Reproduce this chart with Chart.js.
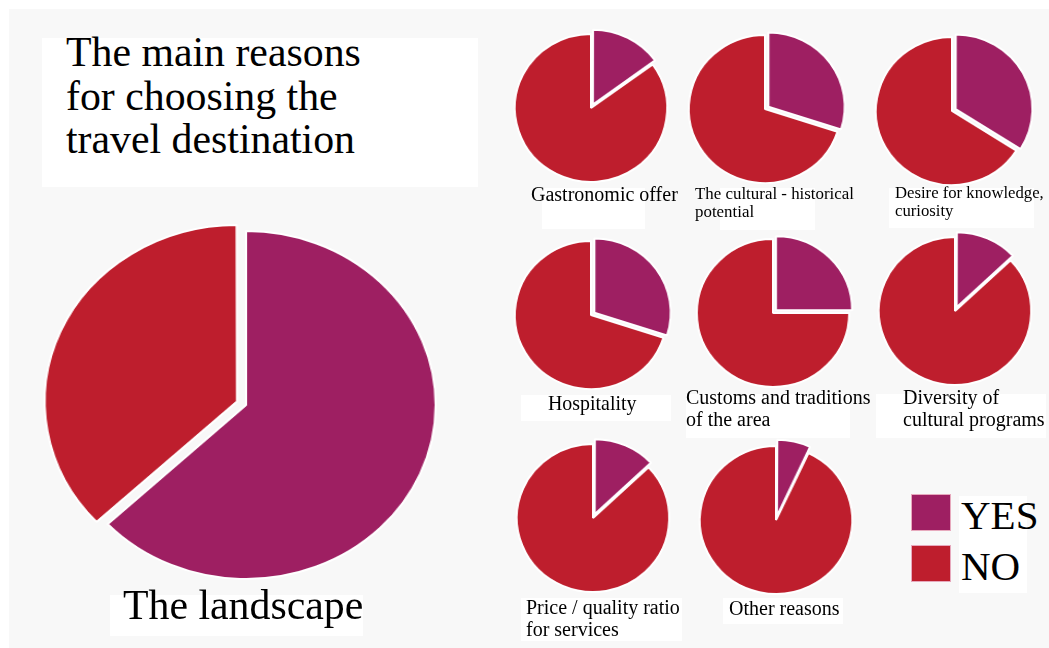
<!DOCTYPE html>
<html>
<head>
<meta charset="utf-8">
<script src="https://cdn.jsdelivr.net/npm/chart.js@4.4.1/dist/chart.umd.min.js"></script>
<style>
    html, body { margin: 0; padding: 0; background: #f8f8f8; }
    body { width: 1049px; height: 648px; position: relative; overflow: hidden; font-family: 'Liberation Serif', 'Times New Roman', serif; color: #000; }
    .edge { position: absolute; background: #ffffff; }
    .pie { position: absolute; }
    .pie canvas { display: block; }
    .box { position: absolute; background: #ffffff; }
    .txt { position: absolute; white-space: nowrap; }
    .swatch { position: absolute; width: 40px; height: 37px; box-sizing: border-box; border: 1px solid #e7a9bd; }
</style>
</head>
<body>
<div class="edge" style="left:0; top:0; width:1049px; height:9px;"></div>
<div class="edge" style="left:0; top:0; width:9px; height:648px;"></div>

<div class="box" style="left:42px; top:38px; width:436px; height:149px;"></div>
<div class="txt" id="title" style="left:66px; top:31px; font-size:41.8px; line-height:43.5px;"></div>

<div class="box" style="left:110px; top:595px; width:253px; height:41px;"></div>

<div class="box" style="left:959px; top:496px; width:68px; height:97px;"></div>
<div class="swatch" id="swYes" style="left:911px; top:494px;"></div>
<div class="swatch" id="swNo" style="left:911px; top:545px;"></div>
<div class="txt" style="left:961px; top:494px; font-size:41px; line-height:42px;">YES</div>
<div class="txt" style="left:961px; top:545px; font-size:41px; line-height:42px;">NO</div>

<div id="charts"></div>

<script>
// Share of respondents answering YES / NO for each reason (percent)
const categories = ['YES', 'NO'];
const colors = ['#9e1f62', '#be1e2d'];

const titleLines = ['The main reasons', 'for choosing the', 'travel destination'];

const landscapeLabel = 'The landscape';
const landscapeValues = [63, 37];

const reasons = [
    'Gastronomic offer',
    'The cultural - historical|potential',
    'Desire for knowledge,|curiosity',
    'Hospitality',
    'Customs and traditions|of the area',
    'Diversity of|cultural programs',
    'Price / quality ratio|for services',
    'Other reasons'
];
const yesShare = [15, 30, 34, 30, 25, 13, 13, 7];

// Layout of the small pies: centre, label box and text placement
const pieSpots = [
    { cx: 591, cy: 108, box: [542, 188, 103, 41], text: [531, 184, 20] },
    { cx: 765, cy: 109, box: [720, 188, 95, 42],  text: [695, 185, 16.9] },
    { cx: 952, cy: 111, box: [889, 188, 145, 40], text: [895, 184, 16.7] },
    { cx: 591, cy: 315, box: [521, 395, 150, 26], text: [548, 393, 19.9] },
    { cx: 773, cy: 313, box: [686, 394, 164, 44], text: [686, 387, 20] },
    { cx: 955, cy: 311, box: [876, 394, 170, 44], text: [903, 387, 20] },
    { cx: 593, cy: 518, box: [521, 598, 161, 43], text: [526, 597, 20] },
    { cx: 776, cy: 520, box: [723, 598, 120, 26], text: [729, 598, 20] }
];

document.getElementById('title').innerHTML = titleLines.join('<br>');
document.getElementById('swYes').style.background = colors[0];
document.getElementById('swNo').style.background = colors[1];

const baseOptions = {
    responsive: true,
    maintainAspectRatio: false,
    animation: false,
    rotation: 0,
    plugins: {
        legend: { display: false },
        tooltip: { enabled: false }
    }
};

const holder = document.getElementById('charts');

// Create one pie in an absolutely placed box, stretched slightly wide
function createPie(cx, cy, radius, stretch, values, offsets) {
    const size = 2 * radius;
    const wrap = document.createElement('div');
    wrap.className = 'pie';
    wrap.style.left = (cx - size / 2) + 'px';
    wrap.style.top = (cy - size / 2) + 'px';
    wrap.style.width = size + 'px';
    wrap.style.height = size + 'px';
    wrap.style.transform = 'scaleX(' + stretch + ')';
    const canvas = document.createElement('canvas');
    wrap.appendChild(canvas);
    holder.appendChild(wrap);

    return new Chart(canvas, {
        type: 'pie',
        data: {
            labels: categories,
            datasets: [{
                data: values,
                backgroundColor: colors,
                borderColor: '#ffffff',
                borderWidth: 2,
                offset: offsets
            }]
        },
        options: baseOptions
    });
}

// Big pie: the landscape, NO slice pulled out
createPie(246, 405, 193, 1.09, landscapeValues, [0, 36]);
const landBox = document.createElement('div');
landBox.className = 'txt';
landBox.style.cssText = 'left:123px; top:584px; font-size:41.8px; line-height:42px;';
landBox.textContent = landscapeLabel;
document.body.appendChild(landBox);

// Small pies, YES slice pulled out
reasons.forEach((name, i) => {
    const spot = pieSpots[i];
    createPie(spot.cx, spot.cy, 83, 1.03, [yesShare[i], 100 - yesShare[i]], [16, 0]);

    const box = document.createElement('div');
    box.className = 'box';
    box.style.left = spot.box[0] + 'px';
    box.style.top = spot.box[1] + 'px';
    box.style.width = spot.box[2] + 'px';
    box.style.height = spot.box[3] + 'px';
    document.body.appendChild(box);

    const label = document.createElement('div');
    label.className = 'txt';
    label.style.left = spot.text[0] + 'px';
    label.style.top = spot.text[1] + 'px';
    label.style.fontSize = spot.text[2] + 'px';
    label.style.lineHeight = (spot.text[2] * 1.08) + 'px';
    label.innerHTML = name.split('|').join('<br>');
    document.body.appendChild(label);
});
</script>
</body>
</html>
